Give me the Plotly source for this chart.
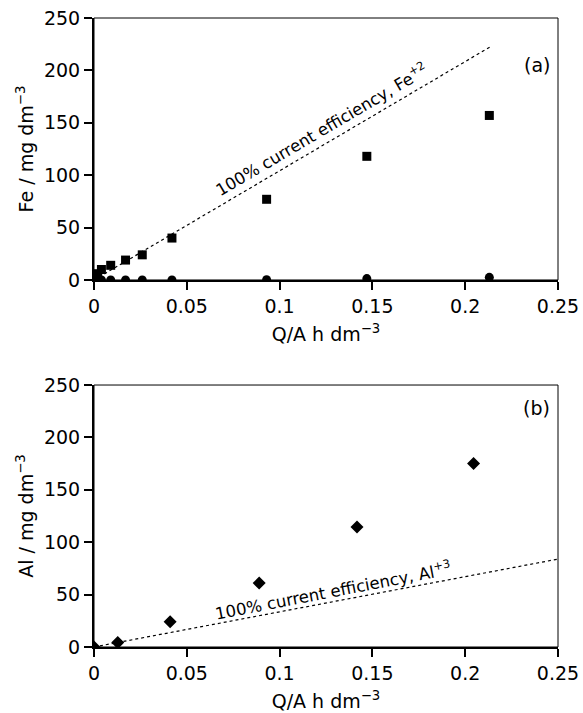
import plotly.graph_objects as go

# Panel (a): Fe
fe_sq_x = [0, 0.001, 0.002, 0.004, 0.009, 0.017, 0.026, 0.042, 0.093, 0.147, 0.213]
fe_sq_y = [0, 3, 6, 10, 14, 19, 24, 40, 77, 118, 157]
fe_ci_x = [0, 0.001, 0.004, 0.009, 0.017, 0.026, 0.042, 0.093, 0.147, 0.213]
fe_ci_y = [0, 0, 0, 0, 0, 0, 0, 0.3, 1.3, 2.5]
fe_line_x = [0, 0.214]
fe_line_y = [0, 223]

# Panel (b): Al
al_x = [0, 0.0128, 0.041, 0.089, 0.1417, 0.2045]
al_y = [0, 4.2, 24, 61, 114.6, 175.2]
al_line_x = [0, 0.25]
al_line_y = [0, 83.9]

xticks = [0, 0.05, 0.1, 0.15, 0.2, 0.25]
xticklabels = ["0", "0.05", "0.1", "0.15", "0.2", "0.25"]
yticks = [0, 50, 100, 150, 200, 250]

FONT = "DejaVu Sans"
fig = go.Figure()

fig.add_trace(go.Scatter(x=fe_line_x, y=fe_line_y, mode="lines",
                         line=dict(color="black", width=1.2, dash="dot"),
                         xaxis="x", yaxis="y", showlegend=False))
fig.add_trace(go.Scatter(x=fe_ci_x, y=fe_ci_y, mode="markers",
                         marker=dict(symbol="circle", size=9, color="black"),
                         xaxis="x", yaxis="y", showlegend=False))
fig.add_trace(go.Scatter(x=fe_sq_x, y=fe_sq_y, mode="markers",
                         marker=dict(symbol="square", size=9, color="black"),
                         xaxis="x", yaxis="y", showlegend=False))

fig.add_trace(go.Scatter(x=al_line_x, y=al_line_y, mode="lines",
                         line=dict(color="black", width=1.2, dash="dot"),
                         xaxis="x2", yaxis="y2", showlegend=False))
fig.add_trace(go.Scatter(x=al_x, y=al_y, mode="markers",
                         marker=dict(symbol="diamond", size=10, color="black"),
                         xaxis="x2", yaxis="y2", showlegend=False))

tf = dict(family=FONT, size=19, color="black")
xcommon = dict(range=[0, 0.25], tickvals=xticks, ticktext=xticklabels,
               showline=True, linecolor="black", linewidth=2, mirror=False,
               ticks="outside", ticklen=8, tickcolor="black", tickwidth=1.5,
               showgrid=False, zeroline=False, tickfont=tf, automargin=False,
               title=dict(text="Q/A h dm<sup>−3</sup>", font=tf, standoff=12))
ycommon = dict(range=[0, 250], tickvals=yticks,
               showline=True, linecolor="black", linewidth=2, mirror=False,
               ticks="outside", ticklen=8, tickcolor="black", tickwidth=1.5,
               showgrid=False, zeroline=False, tickfont=tf, automargin=False)

fig.update_layout(
    width=583, height=713,
    margin=dict(l=94, r=25, t=18, b=66),
    paper_bgcolor="white", plot_bgcolor="white",
    font=dict(family=FONT, color="black"),
    xaxis=dict(**xcommon, anchor="y", domain=[0, 1]),
    yaxis=dict(**ycommon, anchor="x", domain=[0.5835, 1.0],
               title=dict(text="Fe / mg dm<sup>−3</sup>", font=tf, standoff=5)),
    xaxis2=dict(**xcommon, anchor="y2", domain=[0, 1]),
    yaxis2=dict(**ycommon, anchor="x2", domain=[0.0, 0.4165],
                title=dict(text="Al / mg dm<sup>−3</sup>", font=tf, standoff=5)),
    shapes=[
        dict(type="rect", xref="x domain", yref="y domain", x0=0, x1=1, y0=0, y1=1,
             line=dict(color="black", width=1)),
        dict(type="rect", xref="x2 domain", yref="y2 domain", x0=0, x1=1, y0=0, y1=1,
             line=dict(color="black", width=1)),
    ],
    annotations=[
        dict(text="100% current efficiency, Fe<sup>+2</sup>", x=0.1225, y=144,
             xref="x", yref="y", showarrow=False, textangle=-30.5,
             font=dict(family=FONT, size=16.5, color="black")),
        dict(text="100% current efficiency, Al<sup>+3</sup>", x=0.129, y=54.5,
             xref="x2", yref="y2", showarrow=False, textangle=-11,
             font=dict(family=FONT, size=16.5, color="black")),
        dict(text="(a)", x=0.987, y=0.925, xref="paper", yref="paper",
             showarrow=False, xanchor="right", yanchor="middle",
             font=dict(family=FONT, size=19, color="black")),
        dict(text="(b)", x=0.987, y=0.4165 - (408 - 385) / 629, xref="paper", yref="paper",
             showarrow=False, xanchor="right", yanchor="middle",
             font=dict(family=FONT, size=19, color="black")),
    ],
)

fig.write_html("out.html")
